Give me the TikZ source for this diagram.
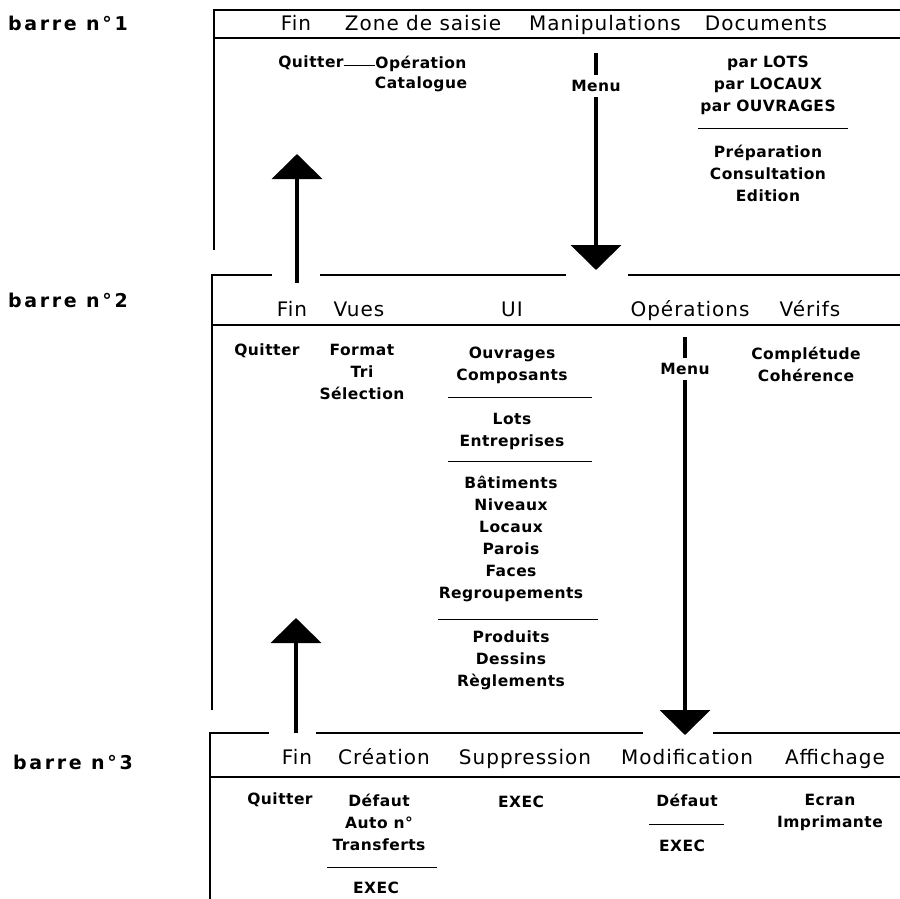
\documentclass[tikz,border=0pt]{standalone}
\usepackage{fontspec}
\setmainfont{DejaVu Sans}
\newfontfamily\hdrfont[LetterSpace=5]{DejaVu Sans}
\newfontfamily\itmfont[LetterSpace=3]{DejaVu Sans}
\newfontfamily\lblfont[LetterSpace=14]{DejaVu Sans}
\usetikzlibrary{arrows.meta}

\begin{document}
\begin{tikzpicture}[x=1pt, y=-1pt,
    hdr/.style={font=\hdrfont\fontsize{20}{22}\selectfont, inner sep=0pt, anchor=base},
    itm/.style={font=\itmfont\bfseries\fontsize{15.5}{22}\selectfont, align=center, inner sep=0pt},
    lbl/.style={font=\lblfont\bfseries\fontsize{19}{22}\selectfont, anchor=west, inner sep=0pt},
    menu/.style={itm, inner ysep=5pt},
    rule/.style={line width=1.2pt},
    bar/.style={line width=1.8pt},
    sep/.style={line width=1pt},
    shaft/.style={line width=4pt},
    bigarrow/.style={line width=4pt, -{Triangle[width=50pt, length=25pt]}}]
  \useasboundingbox (0,0) rectangle (900,899);

  \node[lbl] (barre1) at (8,23) {barre n°1};
  \node[lbl] (barre2) at (8,300) {barre n°2};
  \node[lbl] (barre3) at (13,762) {barre n°3};

  % barre 1
  \draw[rule] (214,250) -- (214,10) -- (900,10);
  \draw[bar] (214,38) -- (900,38);
  \node[hdr] (fin1) at (296,31) {Fin};
  \node[hdr] (zone1) at (423,31) {Zone de saisie};
  \node[hdr] (manip1) at (605,31) {Manipulations};
  \node[hdr] (docs1) at (766,31) {Documents};
  \node[itm] (quit1) at (311,63) {Quitter};
  \node[itm] (oper1) at (421,64) {Opération};
  \node[itm] (cata1) at (421,84) {Catalogue};
  \draw[line width=.6pt] ([yshift=-2pt]quit1.east) -- ([yshift=-2pt]quit1.east -| oper1.west);
  \node[itm] (lots1) at (768,85) {par LOTS\\par LOCAUX\\par OUVRAGES};
  \draw[sep] (698,128) -- (848,128);
  \node[itm] (prep1) at (768,173) {Préparation\\Consultation\\Edition};
  \node[menu] (menu1) at (596,86) {Menu};
  \coordinate (dn1s) at (596,53);
  \coordinate (dn1t) at (596,270);
  \draw[shaft] (dn1s) -- (menu1.north);
  \draw[bigarrow] (menu1.south) -- (dn1t);

  % barre 2
  \draw[rule] (212,710) -- (212,275) -- (272,275);
  \draw[rule] (320,275) -- (566,275);
  \draw[rule] (628,275) -- (900,275);
  \draw[bar] (212,325) -- (900,325);
  \coordinate (up1s) at (297,283);
  \coordinate (up1t) at (297,154);
  \draw[bigarrow] (up1s) -- (up1t);
  \node[hdr] (fin2) at (292,316) {Fin};
  \node[hdr] (vues2) at (359,316) {Vues};
  \node[hdr] (ui2) at (512,316) {UI};
  \node[hdr] (oper2) at (690,316) {Opérations};
  \node[hdr] (verif2) at (810,316) {Vérifs};
  \node[itm] (quit2) at (267,351) {Quitter};
  \node[itm] (form2) at (362,372) {Format\\Tri\\Sélection};
  \node[itm] (ouvr2) at (512,365) {Ouvrages\\Composants};
  \draw[sep] (448,397) -- (592,397);
  \node[itm] (lots2) at (512,431) {Lots\\Entreprises};
  \draw[sep] (448,461) -- (592,461);
  \node[itm] (bati2) at (511,539) {Bâtiments\\Niveaux\\Locaux\\Parois\\Faces\\Regroupements};
  \draw[sep] (438,619) -- (598,619);
  \node[itm] (prod2) at (511,660) {Produits\\Dessins\\Règlements};
  \node[itm] (comp2) at (806,364) {Complétude\\Cohérence};
  \node[menu] (menu2) at (685,369) {Menu};
  \coordinate (dn2s) at (685,337);
  \coordinate (dn2t) at (685,735);
  \draw[shaft] (dn2s) -- (menu2.north);
  \draw[bigarrow] (menu2.south) -- (dn2t);

  % barre 3
  \draw[rule] (210,899) -- (210,733) -- (269,733);
  \draw[rule] (316,733) -- (643,733);
  \draw[rule] (713,733) -- (900,733);
  \draw[bar] (210,777) -- (900,777);
  \coordinate (up2s) at (296,733);
  \coordinate (up2t) at (296,618);
  \draw[bigarrow] (up2s) -- (up2t);
  \node[hdr] (fin3) at (297,764) {Fin};
  \node[hdr] (crea3) at (384,764) {Création};
  \node[hdr] (supp3) at (525,764) {Suppression};
  \node[hdr] (modi3) at (687,764) {Modification};
  \node[hdr] (affi3) at (835,764) {Affichage};
  \node[itm] (quit3) at (280,800) {Quitter};
  \node[itm] (defa3) at (379,822) {Défaut\\Auto n°\\Transferts};
  \draw[sep] (327,867) -- (437,867);
  \node[itm] (exec3) at (376,888) {EXEC};
  \node[itm] (exsu3) at (521,802) {EXEC};
  \node[itm] (demo3) at (687,800) {Défaut};
  \draw[sep] (649,824) -- (724,824);
  \node[itm] (exmo3) at (682,846) {EXEC};
  \node[itm] (ecra3) at (830,812) {Ecran\\Imprimante};
\end{tikzpicture}
\end{document}
